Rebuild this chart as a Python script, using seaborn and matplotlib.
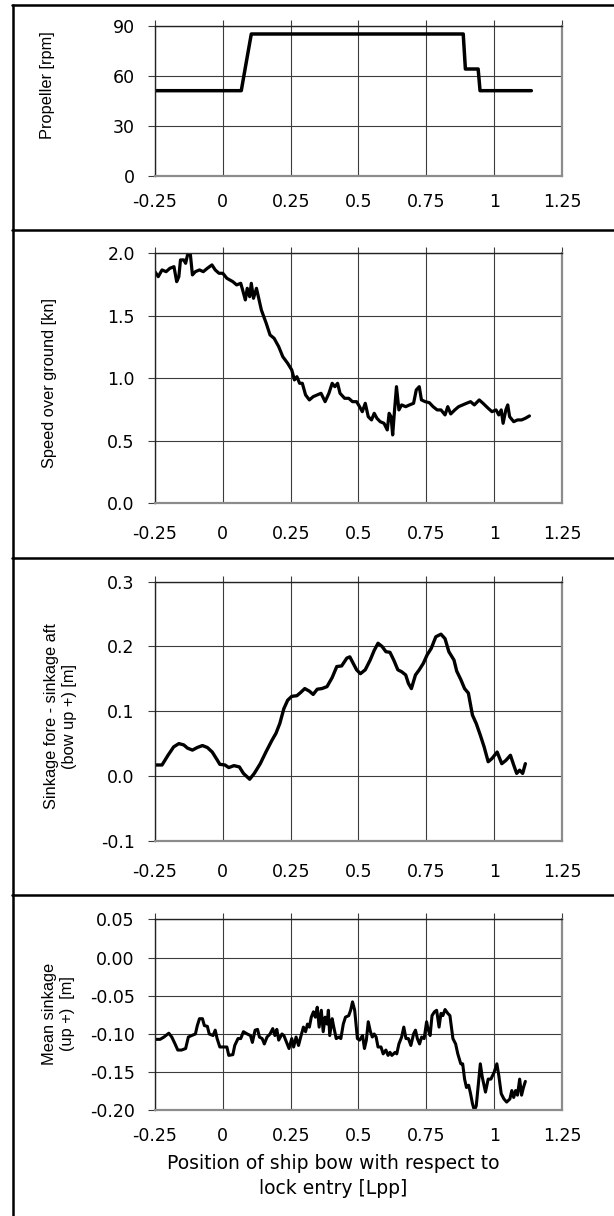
import matplotlib
matplotlib.use("Agg")
import matplotlib.pyplot as plt
import seaborn as sns
import pandas as pd
from matplotlib.lines import Line2D
from matplotlib.ticker import FixedLocator, FixedFormatter

# ---------------- data ----------------
x_ticks = [-0.25, 0, 0.25, 0.5, 0.75, 1, 1.25]
x_tick_labels = ["-0.25", "0", "0.25", "0.5", "0.75", "1", "1.25"]

prop_x = [-0.25, 0.068, 0.088, 0.105, 0.886, 0.894, 0.941, 0.948, 1.137]
prop_rpm = [51, 51, 69.5, 85, 85, 64, 64, 51, 51]

speed_x = [-0.250, -0.238, -0.224, -0.209, -0.195, -0.180, -0.170, -0.162, -0.156, -0.144,
           -0.137, -0.130, -0.120, -0.112, -0.101, -0.086, -0.072, -0.057, -0.040, -0.028,
           -0.014, 0.000, 0.015, 0.037, 0.051, 0.066, 0.073, 0.083, 0.090, 0.099,
           0.105, 0.113, 0.124, 0.131, 0.142, 0.160, 0.174, 0.189, 0.206, 0.221,
           0.239, 0.254, 0.264, 0.273, 0.283, 0.293, 0.305, 0.319, 0.333, 0.348,
           0.362, 0.377, 0.391, 0.403, 0.413, 0.423, 0.432, 0.449, 0.464, 0.478,
           0.493, 0.504, 0.514, 0.525, 0.536, 0.548, 0.558, 0.568, 0.580, 0.594,
           0.606, 0.613, 0.620, 0.626, 0.633, 0.640, 0.649, 0.659, 0.674, 0.688,
           0.703, 0.713, 0.724, 0.732, 0.746, 0.761, 0.775, 0.790, 0.804, 0.819,
           0.829, 0.840, 0.855, 0.869, 0.884, 0.898, 0.913, 0.927, 0.945, 0.959,
           0.978, 0.992, 1.007, 1.017, 1.026, 1.033, 1.043, 1.050, 1.057, 1.072,
           1.086, 1.101, 1.115, 1.130]
speed_kn = [1.853, 1.813, 1.867, 1.853, 1.880, 1.893, 1.773, 1.813, 1.947, 1.947,
            1.920, 1.987, 2.000, 1.827, 1.853, 1.867, 1.853, 1.880, 1.907, 1.867,
            1.840, 1.840, 1.800, 1.773, 1.747, 1.760, 1.707, 1.627, 1.720, 1.653,
            1.760, 1.640, 1.720, 1.653, 1.547, 1.440, 1.347, 1.320, 1.253, 1.173,
            1.120, 1.067, 0.987, 1.013, 0.960, 0.960, 0.867, 0.827, 0.853, 0.867,
            0.880, 0.813, 0.880, 0.960, 0.933, 0.960, 0.880, 0.840, 0.840, 0.813,
            0.813, 0.773, 0.733, 0.800, 0.693, 0.667, 0.720, 0.680, 0.653, 0.640,
            0.587, 0.720, 0.693, 0.547, 0.747, 0.933, 0.747, 0.787, 0.773, 0.787,
            0.800, 0.907, 0.933, 0.827, 0.813, 0.805, 0.773, 0.747, 0.747, 0.707,
            0.773, 0.715, 0.747, 0.773, 0.787, 0.800, 0.813, 0.787, 0.827, 0.800,
            0.760, 0.733, 0.747, 0.707, 0.747, 0.640, 0.747, 0.787, 0.693, 0.653,
            0.667, 0.667, 0.680, 0.699]

trim_x = [-0.250, -0.224, -0.202, -0.181, -0.162, -0.144, -0.130, -0.112, -0.094, -0.075,
          -0.057, -0.039, -0.021, -0.011, 0.008, 0.022, 0.041, 0.061, 0.076, 0.099,
          0.116, 0.138, 0.160, 0.181, 0.196, 0.210, 0.225, 0.239, 0.254, 0.273,
          0.287, 0.302, 0.319, 0.333, 0.348, 0.365, 0.384, 0.403, 0.420, 0.438,
          0.457, 0.468, 0.478, 0.493, 0.507, 0.525, 0.543, 0.558, 0.572, 0.587,
          0.601, 0.616, 0.630, 0.645, 0.659, 0.674, 0.684, 0.695, 0.710, 0.724,
          0.739, 0.753, 0.768, 0.785, 0.804, 0.819, 0.833, 0.852, 0.862, 0.877,
          0.891, 0.905, 0.920, 0.934, 0.949, 0.963, 0.978, 0.992, 1.011, 1.028,
          1.043, 1.060, 1.072, 1.083, 1.094, 1.105, 1.115]
trim_m = [0.017, 0.017, 0.032, 0.045, 0.050, 0.048, 0.043, 0.040, 0.044, 0.047,
          0.044, 0.037, 0.025, 0.018, 0.017, 0.013, 0.016, 0.014, 0.004, -0.005,
          0.004, 0.019, 0.038, 0.055, 0.066, 0.081, 0.104, 0.117, 0.123, 0.124,
          0.129, 0.135, 0.131, 0.126, 0.134, 0.135, 0.138, 0.152, 0.169, 0.170,
          0.182, 0.184, 0.176, 0.164, 0.158, 0.164, 0.179, 0.194, 0.205, 0.200,
          0.192, 0.191, 0.179, 0.164, 0.161, 0.156, 0.143, 0.135, 0.156, 0.164,
          0.174, 0.187, 0.197, 0.215, 0.219, 0.212, 0.192, 0.179, 0.162, 0.149,
          0.135, 0.128, 0.094, 0.081, 0.063, 0.045, 0.022, 0.027, 0.037, 0.019,
          0.024, 0.032, 0.017, 0.004, 0.009, 0.004, 0.019]

mean_x = [-0.250, -0.231, -0.217, -0.199, -0.188, -0.176, -0.166, -0.152, -0.137, -0.127,
          -0.115, -0.101, -0.094, -0.086, -0.075, -0.068, -0.057, -0.050, -0.036, -0.028,
          -0.021, -0.011, 0.000, 0.015, 0.022, 0.037, 0.044, 0.056, 0.066, 0.076,
          0.090, 0.102, 0.109, 0.119, 0.128, 0.135, 0.145, 0.153, 0.163, 0.174,
          0.184, 0.192, 0.199, 0.206, 0.218, 0.225, 0.235, 0.244, 0.254, 0.261,
          0.270, 0.279, 0.287, 0.297, 0.305, 0.312, 0.319, 0.326, 0.334, 0.341,
          0.348, 0.355, 0.363, 0.370, 0.377, 0.384, 0.389, 0.394, 0.403, 0.409,
          0.418, 0.428, 0.435, 0.444, 0.452, 0.464, 0.471, 0.478, 0.486, 0.496,
          0.504, 0.515, 0.522, 0.529, 0.536, 0.544, 0.551, 0.558, 0.565, 0.572,
          0.583, 0.591, 0.601, 0.609, 0.616, 0.623, 0.635, 0.641, 0.649, 0.659,
          0.667, 0.675, 0.684, 0.693, 0.703, 0.710, 0.717, 0.725, 0.733, 0.742,
          0.751, 0.756, 0.764, 0.771, 0.780, 0.788, 0.797, 0.804, 0.811, 0.819,
          0.829, 0.837, 0.848, 0.858, 0.866, 0.877, 0.884, 0.891, 0.898, 0.906,
          0.913, 0.920, 0.927, 0.934, 0.942, 0.949, 0.956, 0.968, 0.978, 0.988,
          1.000, 1.010, 1.017, 1.026, 1.036, 1.046, 1.058, 1.065, 1.072, 1.079,
          1.086, 1.094, 1.101, 1.108, 1.115]
mean_m = [-0.107, -0.107, -0.104, -0.099, -0.104, -0.113, -0.121, -0.121, -0.119, -0.104,
          -0.102, -0.100, -0.089, -0.080, -0.080, -0.089, -0.090, -0.100, -0.102, -0.095,
          -0.106, -0.117, -0.117, -0.117, -0.128, -0.127, -0.115, -0.106, -0.106, -0.097,
          -0.100, -0.102, -0.111, -0.095, -0.094, -0.104, -0.106, -0.113, -0.104, -0.100,
          -0.093, -0.102, -0.094, -0.108, -0.100, -0.102, -0.111, -0.119, -0.106, -0.117,
          -0.104, -0.115, -0.104, -0.091, -0.097, -0.087, -0.091, -0.078, -0.071, -0.078,
          -0.065, -0.091, -0.069, -0.097, -0.078, -0.087, -0.069, -0.102, -0.080, -0.091,
          -0.106, -0.104, -0.106, -0.087, -0.078, -0.076, -0.069, -0.058, -0.069, -0.106,
          -0.108, -0.102, -0.119, -0.108, -0.084, -0.097, -0.104, -0.100, -0.104, -0.117,
          -0.117, -0.126, -0.121, -0.128, -0.124, -0.128, -0.124, -0.126, -0.113, -0.104,
          -0.091, -0.106, -0.106, -0.115, -0.100, -0.095, -0.106, -0.113, -0.104, -0.106,
          -0.084, -0.093, -0.102, -0.076, -0.071, -0.069, -0.091, -0.073, -0.076, -0.068,
          -0.073, -0.076, -0.106, -0.113, -0.126, -0.139, -0.139, -0.159, -0.170, -0.167,
          -0.178, -0.191, -0.200, -0.194, -0.165, -0.139, -0.156, -0.176, -0.159, -0.159,
          -0.150, -0.139, -0.154, -0.178, -0.185, -0.189, -0.185, -0.174, -0.183, -0.174,
          -0.180, -0.159, -0.180, -0.170, -0.162]

panels = [
    dict(x=prop_x, y=prop_rpm, ylim=(0, 90), yticks=[0, 30, 60, 90],
         ylabels=["0", "30", "60", "90"], label="Propeller [rpm]", lw=2.5),
    dict(x=speed_x, y=speed_kn, ylim=(0, 2.0), yticks=[0, 0.5, 1.0, 1.5, 2.0],
         ylabels=["0.0", "0.5", "1.0", "1.5", "2.0"], label="Speed over ground [kn]", lw=2.3),
    dict(x=trim_x, y=trim_m, ylim=(-0.1, 0.3), yticks=[-0.1, 0.0, 0.1, 0.2, 0.3],
         ylabels=["-0.1", "0.0", "0.1", "0.2", "0.3"],
         label="Sinkage fore - sinkage aft\n(bow up +) [m]", lw=2.4),
    dict(x=mean_x, y=mean_m, ylim=(-0.20, 0.05), yticks=[-0.20, -0.15, -0.10, -0.05, 0.00, 0.05],
         ylabels=["-0.20", "-0.15", "-0.10", "-0.05", "0.00", "0.05"],
         label="Mean sinkage\n(up +)  [m]", lw=2.2),
]

# ---------------- layout ----------------
sns.set_theme(style="white")
plt.rcParams["font.family"] = ["DejaVu Sans"]

fig = plt.figure(figsize=(6.14, 12.16), dpi=100)

rects = [
    (0.2524, 0.8555, 0.6629, 0.1234),
    (0.2524, 0.5861, 0.6629, 0.2056),
    (0.2524, 0.3086, 0.6629, 0.2130),
    (0.2524, 0.0868, 0.6629, 0.1572),
]
xpads = [8.0, 11.0, 11.3, 7.6]
ylab_pos = [(-0.263, 0.605), (-0.260, 0.481), (-0.232, 0.481), (-0.236, 0.505)]

grid_c = "#3c3c3c"
for i, (p, r) in enumerate(zip(panels, rects)):
    ax = fig.add_axes(r)
    df = pd.DataFrame({"x": p["x"], "y": p["y"]})
    sns.lineplot(data=df, x="x", y="y", ax=ax, color="black", lw=p["lw"],
                 sort=False, estimator=None, solid_joinstyle="round")
    ax.set_xlim(-0.25, 1.25)
    ax.set_ylim(*p["ylim"])
    ax.xaxis.set_major_locator(FixedLocator(x_ticks))
    ax.xaxis.set_major_formatter(FixedFormatter(x_tick_labels))
    ax.yaxis.set_major_locator(FixedLocator(p["yticks"]))
    ax.yaxis.set_major_formatter(FixedFormatter(p["ylabels"]))
    ax.grid(True, color=grid_c, lw=0.8)
    ax.set_axisbelow(True)
    ax.tick_params(axis="x", which="major", bottom=False, top=True, labelbottom=True,
                   labeltop=False, direction="out", length=4.5, width=0.8, color=grid_c,
                   pad=xpads[i], labelsize=12.5, labelcolor="black")
    ax.tick_params(axis="y", which="major", left=True, direction="out", length=5,
                   width=0.8, color=grid_c, pad=9.5, labelsize=12.5, labelcolor="black")
    for s in ["right", "bottom"]:
        ax.spines[s].set_color("#8c8c8c")
        ax.spines[s].set_linewidth(1.6)
    ax.spines["left"].set_color("#222222")
    ax.spines["left"].set_linewidth(1.0)
    ax.spines["top"].set_color("#222222")
    ax.spines["top"].set_linewidth(1.0)
    ax.set_ylabel(p["label"], fontsize=11.8, family=["Liberation Sans", "DejaVu Sans"],
                  linespacing=1.25, color="black")
    ax.yaxis.label.set_va("center")
    ax.yaxis.set_label_coords(*ylab_pos[i])
    if i == 3:
        ax.set_xlabel("Position of ship bow with respect to\nlock entry [Lpp]",
                      fontsize=13.5, linespacing=1.4, color="black")
        ax.xaxis.label.set_va("center")
        ax.xaxis.set_label_coords(0.437, -0.345)
    else:
        ax.set_xlabel("")

# outer frame lines
H, W = 1216.0, 614.0
def hline(ypx, x0px, x1px, lw=1.8):
    fig.add_artist(Line2D([x0px / W, x1px / W], [1 - ypx / H, 1 - ypx / H],
                          transform=fig.transFigure, color="black", lw=lw))

hline(4.5, 12.0, 614.0)
hline(229.5, 12.0, 614.0)
hline(557.7, 12.0, 614.0)
hline(895.0, 12.0, 614.0)
fig.add_artist(Line2D([13.0 / W, 13.0 / W], [0.0, 1 - 4.5 / H],
                      transform=fig.transFigure, color="black", lw=1.8))

fig.savefig("out.png", dpi=100)
